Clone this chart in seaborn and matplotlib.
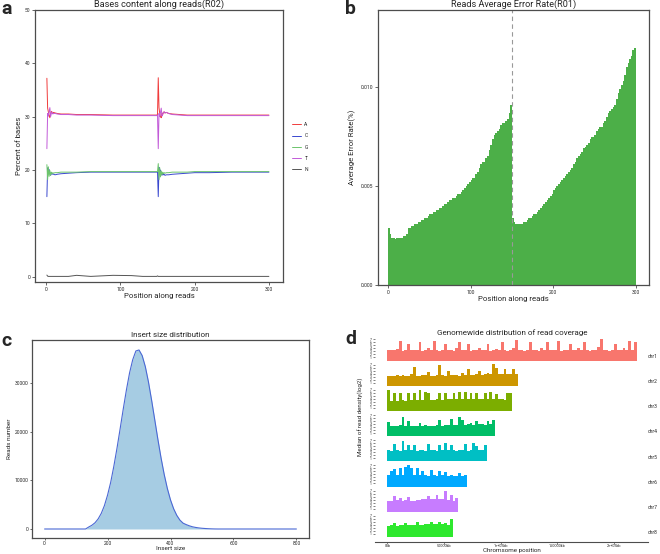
import numpy as np
import pandas as pd
import matplotlib
matplotlib.use("Agg")
import matplotlib.pyplot as plt
import seaborn as sns

W, H = 660, 554

# ---------------- panel a: base content along reads ----------------
pos_a = [1, 2, 3, 4, 5, 6, 7, 8, 9, 10,
         12, 15, 20, 30, 41, 60, 90, 115, 130, 140,
         149, 150,
         151, 152, 153, 154, 155, 156, 157, 158, 159, 160,
         162, 165, 170, 180, 190, 200, 220, 250, 280, 300]
base_A = [37.2, 31.6, 30.9, 30.2, 29.8, 30.6, 31.0, 30.7, 30.6, 30.8,
          30.7, 30.6, 30.5, 30.5, 30.4, 30.4, 30.3, 30.3, 30.3, 30.3,
          30.3, 30.4,
          37.3, 31.7, 30.6, 30.0, 29.8, 30.7, 30.4, 30.8, 30.9, 30.7,
          30.8, 30.6, 30.5, 30.4, 30.3, 30.3, 30.3, 30.3, 30.3, 30.3]
base_C = [15.0, 20.4, 19.6, 20.1, 19.4, 19.0, 19.5, 19.2, 19.3, 19.2,
          19.1, 19.2, 19.3, 19.4, 19.5, 19.6, 19.6, 19.6, 19.6, 19.6,
          19.6, 19.6,
          15.0, 20.5, 19.7, 20.0, 19.3, 19.0, 19.4, 19.1, 19.2, 19.0,
          19.1, 19.1, 19.2, 19.3, 19.4, 19.5, 19.5, 19.6, 19.6, 19.6]
base_G = [21.0, 18.2, 20.6, 18.8, 19.9, 19.0, 19.6, 19.3, 19.5, 19.4,
          19.5, 19.5, 19.6, 19.6, 19.6, 19.7, 19.7, 19.7, 19.7, 19.7,
          19.7, 19.7,
          21.2, 18.2, 20.4, 18.7, 19.8, 19.1, 19.6, 19.3, 19.5, 19.4,
          19.5, 19.5, 19.6, 19.6, 19.6, 19.7, 19.7, 19.7, 19.7, 19.7]
base_T = [24.0, 30.6, 30.1, 30.9, 31.7, 30.0, 30.6, 30.9, 30.5, 30.6,
          30.6, 30.5, 30.4, 30.4, 30.3, 30.3, 30.2, 30.2, 30.2, 30.2,
          30.2, 30.3,
          24.0, 30.6, 30.0, 30.8, 31.6, 30.1, 30.5, 30.8, 30.9, 30.7,
          30.8, 30.6, 30.4, 30.3, 30.2, 30.2, 30.2, 30.2, 30.2, 30.2]
base_N = [0.3, 0.1, 0.05, 0.05, 0.05, 0.05, 0.05, 0.05, 0.05, 0.05,
          0.05, 0.05, 0.05, 0.05, 0.25, 0.05, 0.25, 0.2, 0.05, 0.05,
          0.05, 0.15,
          0.05, 0.05, 0.05, 0.05, 0.05, 0.05, 0.05, 0.05, 0.05, 0.05,
          0.05, 0.05, 0.05, 0.05, 0.05, 0.05, 0.05, 0.05, 0.05, 0.05]
bases = ["A", "C", "G", "T", "N"]
base_colors = ["#F03C3C", "#3A48CF", "#6CC46C", "#C25AD8", "#555555"]

# ---------------- panel b: average error rate ----------------
pos_b = list(range(1, 300, 2))
err_b = [0.0029, 0.0026, 0.0024, 0.0024, 0.0023, 0.0024, 0.0024, 0.0024, 0.0024, 0.0025,
         0.0025, 0.0026, 0.0029, 0.0029, 0.0030, 0.0030, 0.0031, 0.0031, 0.0032, 0.0032,
         0.0033, 0.0033, 0.0034, 0.0034, 0.0035, 0.0036, 0.0036, 0.0037, 0.0037, 0.0038,
         0.0038, 0.0039, 0.0039, 0.0040, 0.0041, 0.0041, 0.0042, 0.0043, 0.0043, 0.0044,
         0.0044, 0.0045, 0.0046, 0.0046, 0.0047, 0.0048, 0.0049, 0.0050, 0.0051, 0.0052,
         0.0053, 0.0054, 0.0054, 0.0056, 0.0057, 0.0059, 0.0061, 0.0062, 0.0062, 0.0064,
         0.0065, 0.0068, 0.0071, 0.0074, 0.0076, 0.0077, 0.0078, 0.0079, 0.0081, 0.0082,
         0.0082, 0.0083, 0.0084, 0.0087, 0.0091, 0.0034, 0.0032, 0.0031, 0.0031, 0.0031,
         0.0031, 0.0031, 0.0032, 0.0032, 0.0033, 0.0034, 0.0034, 0.0035, 0.0036, 0.0036,
         0.0037, 0.0038, 0.0039, 0.0040, 0.0041, 0.0042, 0.0043, 0.0044, 0.0045, 0.0046,
         0.0048, 0.0049, 0.0050, 0.0051, 0.0052, 0.0053, 0.0054, 0.0055, 0.0056, 0.0057,
         0.0058, 0.0059, 0.0061, 0.0062, 0.0064, 0.0065, 0.0066, 0.0067, 0.0069, 0.0070,
         0.0071, 0.0072, 0.0074, 0.0075, 0.0075, 0.0076, 0.0078, 0.0079, 0.0080, 0.0080,
         0.0082, 0.0083, 0.0085, 0.0087, 0.0088, 0.0089, 0.0090, 0.0091, 0.0094, 0.0097,
         0.0099, 0.0101, 0.0103, 0.0106, 0.0110, 0.0112, 0.0114, 0.0116, 0.0119, 0.0120]

# ---------------- panel c: insert size ----------------
ins_x = list(range(0, 810, 10))
ins_y = [0, 0, 0, 0, 0, 0, 0, 0, 0, 0, 0, 0, 0, 0,
         400, 760, 1270, 2060, 3200, 4800, 6950, 9600, 12900, 16600,
         20600, 24700, 28600, 32100, 34800, 36600, 36800, 35650, 33380, 30220,
         26470, 22440, 18400, 14600, 11210, 8330, 5980, 4160, 2800, 1820,
         1200, 900, 650, 450, 320, 220, 150, 100, 60, 30,
         10, 0, 0, 0, 0, 0, 0, 0, 0, 0,
         0, 0, 0, 0, 0, 0, 0, 0, 0, 0,
         0, 0, 0, 0, 0, 0, 0]

# ---------------- panel d: genome-wide coverage ----------------
chroms = ["chr1", "chr2", "chr3", "chr4", "chr5", "chr6", "chr7", "chr8"]
chr_colors = ["#F8766D", "#CD9600", "#7CAE00", "#00BE67",
              "#00BFC4", "#00A9FF", "#C77CFF", "#2EE82E"]
bin_kb = 2500
cov_chr1 = [3.6, 3.4, 3.5, 3.9, 6.6, 3.3, 3.5, 5.5, 3.4, 3.6,
            3.5, 6.0, 3.3, 3.4, 4.2, 3.5, 6.6, 3.4, 3.3, 3.6,
            5.5, 3.4, 3.5, 3.3, 4.0, 6.0, 3.4, 3.5, 5.5, 3.3,
            3.4, 3.6, 4.3, 3.4, 3.5, 5.5, 3.3, 3.4, 3.7, 3.5,
            6.0, 3.4, 3.3, 3.6, 4.1, 6.9, 3.4, 3.5, 3.3, 3.6,
            6.0, 3.5, 3.4, 3.3, 4.2, 3.5, 6.0, 3.4, 3.6, 3.5,
            6.4, 3.3, 3.5, 3.4, 5.5, 3.6, 3.4, 4.0, 3.5, 6.0,
            3.4, 3.3, 3.6, 3.5, 4.4, 7.0, 3.4, 3.5, 3.3, 3.6,
            5.5, 3.4, 3.5, 4.1, 3.4, 6.4, 3.6, 6.2]
cov_chr2 = [3.2, 3.3, 3.1, 3.4, 3.2, 3.6, 3.3, 3.2, 4.0, 6.1,
            3.3, 3.2, 3.5, 3.4, 4.4, 3.3, 3.2, 3.5, 6.9, 3.4,
            3.3, 5.0, 3.5, 3.4, 3.6, 3.3, 4.2, 3.5, 5.5, 3.6,
            3.7, 3.8, 5.0, 3.7, 3.9, 4.3, 3.8, 7.2, 6.0, 3.9,
            3.8, 5.5, 4.0, 3.9, 5.5, 3.9]
cov_chr3 = [7.0, 3.4, 6.0, 3.3, 6.0, 3.5, 3.4, 5.8, 3.6, 6.0,
            3.5, 7.1, 3.6, 6.2, 5.8, 3.7, 3.5, 3.8, 5.8, 3.7,
            6.0, 3.9, 3.8, 5.8, 3.9, 6.4, 4.0, 6.2, 3.9, 6.0,
            3.8, 6.0, 3.9, 3.8, 5.8, 3.9, 6.3, 3.8, 5.5, 3.9,
            3.8, 3.7, 5.8, 6.0]
cov_chr4 = [4.6, 3.4, 3.5, 3.3, 3.6, 6.4, 3.5, 5.0, 3.4, 3.3,
            3.5, 4.5, 3.4, 3.6, 3.3, 3.5, 3.4, 3.6, 5.2, 3.5,
            3.7, 3.6, 5.7, 3.8, 3.7, 6.4, 5.5, 3.8, 3.9, 4.2,
            3.8, 5.0, 3.9, 4.1, 3.8, 5.0, 3.9, 5.3]
cov_chr5 = [3.7, 3.5, 5.8, 3.6, 3.5, 6.8, 3.7, 5.3, 3.6, 5.3,
            3.5, 3.6, 3.8, 3.5, 5.8, 3.6, 3.7, 3.5, 5.3, 3.6,
            6.2, 3.7, 5.3, 3.6, 3.5, 3.8, 3.6, 5.8, 3.5, 3.7,
            6.2, 5.0, 3.6, 3.7, 5.5]
cov_chr6 = [3.8, 5.3, 5.8, 3.7, 6.2, 3.9, 6.4, 7.0, 6.0, 3.8,
            6.0, 3.7, 5.0, 3.8, 3.6, 5.6, 3.7, 3.6, 5.0, 3.7,
            4.8, 3.6, 3.7, 3.6, 3.5, 4.6, 3.6, 3.7]
cov_chr7 = [3.7, 3.6, 5.1, 3.8, 4.6, 3.7, 3.8, 4.8, 3.7, 3.6,
            3.8, 4.0, 4.1, 4.2, 5.1, 4.3, 4.2, 5.7, 4.3, 4.1,
            6.9, 3.9, 5.7, 3.7, 4.5]
cov_chr8 = [3.7, 3.8, 4.6, 3.7, 3.9, 3.8, 4.6, 3.9, 4.0, 3.8,
            5.0, 4.0, 4.1, 4.3, 4.2, 4.8, 4.3, 4.2, 5.0, 4.3,
            4.6, 4.0, 6.0]
coverage = [cov_chr1, cov_chr2, cov_chr3, cov_chr4,
            cov_chr5, cov_chr6, cov_chr7, cov_chr8]
kb_ticks = [0, 50000, 100000, 150000, 200000]
kb_labels = ["0kb", "50000kb", "1e+05kb", "150000kb", "2e+05kb"]

# ---------------- style ----------------
sns.set_theme(style="ticks")
plt.rcParams["font.family"] = ["Roboto", "DejaVu Sans"]
SPINE = "#4d4d4d"
TICK_FS = 3.6
LAB_FS = 5.6
TITLE_FS = 6.6


def px_axes(fig, left, top, right, bottom):
    return fig.add_axes([left / W, 1 - bottom / H, (right - left) / W, (bottom - top) / H])


def box_style(ax, length=2, pad=1.5):
    for s in ax.spines.values():
        s.set_color(SPINE)
        s.set_linewidth(0.9)
    ax.tick_params(length=length, width=0.6, color=SPINE, labelsize=TICK_FS, pad=pad)


fig = plt.figure(figsize=(W / 100, H / 100), dpi=100)

# ---- a ----
ax = px_axes(fig, 35, 10, 283, 282)
df_a = pd.DataFrame({"pos": pos_a * 5,
                     "pct": base_A + base_C + base_G + base_T + base_N,
                     "base": [b for b in bases for _ in pos_a]})
sns.lineplot(data=df_a, x="pos", y="pct", hue="base", hue_order=bases,
             palette=base_colors, linewidth=0.7, ax=ax)
ax.set_xlim(-15, 319)
ax.set_ylim(-1, 50)
ax.set_xticks([0, 100, 200, 300])
ax.set_yticks([0, 10, 20, 30, 40, 50])
box_style(ax)
ax.set_xlabel("Position along reads", fontsize=LAB_FS, labelpad=1)
ax.set_ylabel("Percent of bases", fontsize=LAB_FS, labelpad=2)
ax.set_title("Bases content along reads(R02)", fontsize=TITLE_FS, pad=2)
ax.legend(title=None, frameon=False, loc="center left", bbox_to_anchor=(1.03, 0.496),
          fontsize=3.6, handlelength=1.8, handletextpad=0.6, labelspacing=1.25,
          borderaxespad=0)

# ---- b ----
ax = px_axes(fig, 378, 10, 649, 285)
df_b = pd.DataFrame({"pos": pos_b, "err": err_b})
sns.histplot(data=df_b, x="pos", weights="err", binwidth=2, binrange=(0, 300),
             element="step", fill=True, color="#4CAF48", alpha=1, linewidth=0, ax=ax)
ax.axvline(150, color="#999999", linestyle=(0, (4, 3)), linewidth=0.8)
ax.set_xlim(-12, 316)
ax.set_ylim(0, 0.0139)
ax.set_xticks([0, 100, 200, 300])
ax.set_yticks([0.0, 0.005, 0.010])
ax.set_yticklabels(["0.000", "0.005", "0.010"])
box_style(ax)
ax.set_xlabel("Position along reads", fontsize=LAB_FS, labelpad=1)
ax.set_ylabel("Average Error Rate(%)", fontsize=LAB_FS, labelpad=3)
ax.set_title("Reads Average Error Rate(R01)", fontsize=TITLE_FS, pad=2)

# ---- c ----
ax = px_axes(fig, 32, 340, 309, 538)
ax.fill_between(ins_x, ins_y, 0, color="#A6CCE3", linewidth=0)
sns.lineplot(x=ins_x, y=ins_y, color="#4A68D4", linewidth=0.8, ax=ax)
ax.set_xlim(-40, 840)
ax.set_ylim(-1850, 38850)
ax.set_xticks([0, 200, 400, 600, 800])
ax.set_yticks([0, 10000, 20000, 30000])
box_style(ax, length=1.5, pad=0.8)
ax.set_xlabel("Insert size", fontsize=4.6, labelpad=0)
ax.set_ylabel("Reads number", fontsize=4.6, labelpad=2)
ax.set_title("Insert size distribution", fontsize=5.8, pad=2)

# ---- d ----
strip_top = 337
strip_h = 23.5
strip_step = 25.2
for i, (name, vals, col) in enumerate(zip(chroms, coverage, chr_colors)):
    top = strip_top + i * strip_step
    ax = px_axes(fig, 375, top, 648, top + strip_h)
    df_d = pd.DataFrame({"kb": [(k + 0.5) * bin_kb for k in range(len(vals))], "cov": vals})
    sns.histplot(data=df_d, x="kb", weights="cov", binwidth=bin_kb,
                 binrange=(0, len(vals) * bin_kb), element="step", fill=True,
                 color=col, alpha=1, linewidth=0, ax=ax)
    ax.set_xlim(-10950, 229950)
    ax.set_ylim(0, 7.8)
    ax.set_yticks(range(1, 8))
    ax.set_yticklabels([str(v) for v in range(1, 8)])
    ax.tick_params(axis="y", length=1.5, width=0.5, color=SPINE, labelsize=2.4, pad=0.8)
    ax.set_ylabel("")
    ax.set_xlabel("")
    for s in ["top", "right", "left"]:
        ax.spines[s].set_visible(False)
    ax.text(1.0, 0.18, name, transform=ax.transAxes, fontsize=3.6, ha="left", va="center")
    if i < len(chroms) - 1:
        ax.spines["bottom"].set_visible(False)
        ax.set_xticks([])
    else:
        ax.spines["bottom"].set_position(("outward", 3.5))
        ax.spines["bottom"].set_color(SPINE)
        ax.spines["bottom"].set_linewidth(0.8)
        ax.set_xticks(kb_ticks)
        ax.set_xticklabels(kb_labels)
        ax.tick_params(axis="x", length=1.2, width=0.5, color=SPINE, labelsize=2.7, pad=0.4)
        ax.set_xlabel("Chromsome position", fontsize=4.5, labelpad=0)

fig.text(512 / W, 1 - 333 / H, "Genomewide distribution of read coverage",
         fontsize=5.8, ha="center", va="center")
fig.text(361 / W, 1 - 417 / H, "Median of read density(log2)", fontsize=4.4,
         rotation=90, ha="center", va="center")

# panel letters
for letter, x, y in [("a", 1, 0), ("b", 345, 0), ("c", 1, 332), ("d", 345, 330)]:
    fig.text(x / W, 1 - y / H, letter, fontsize=14, fontweight="bold", ha="left", va="top")

fig.savefig("out.png", dpi=100)
